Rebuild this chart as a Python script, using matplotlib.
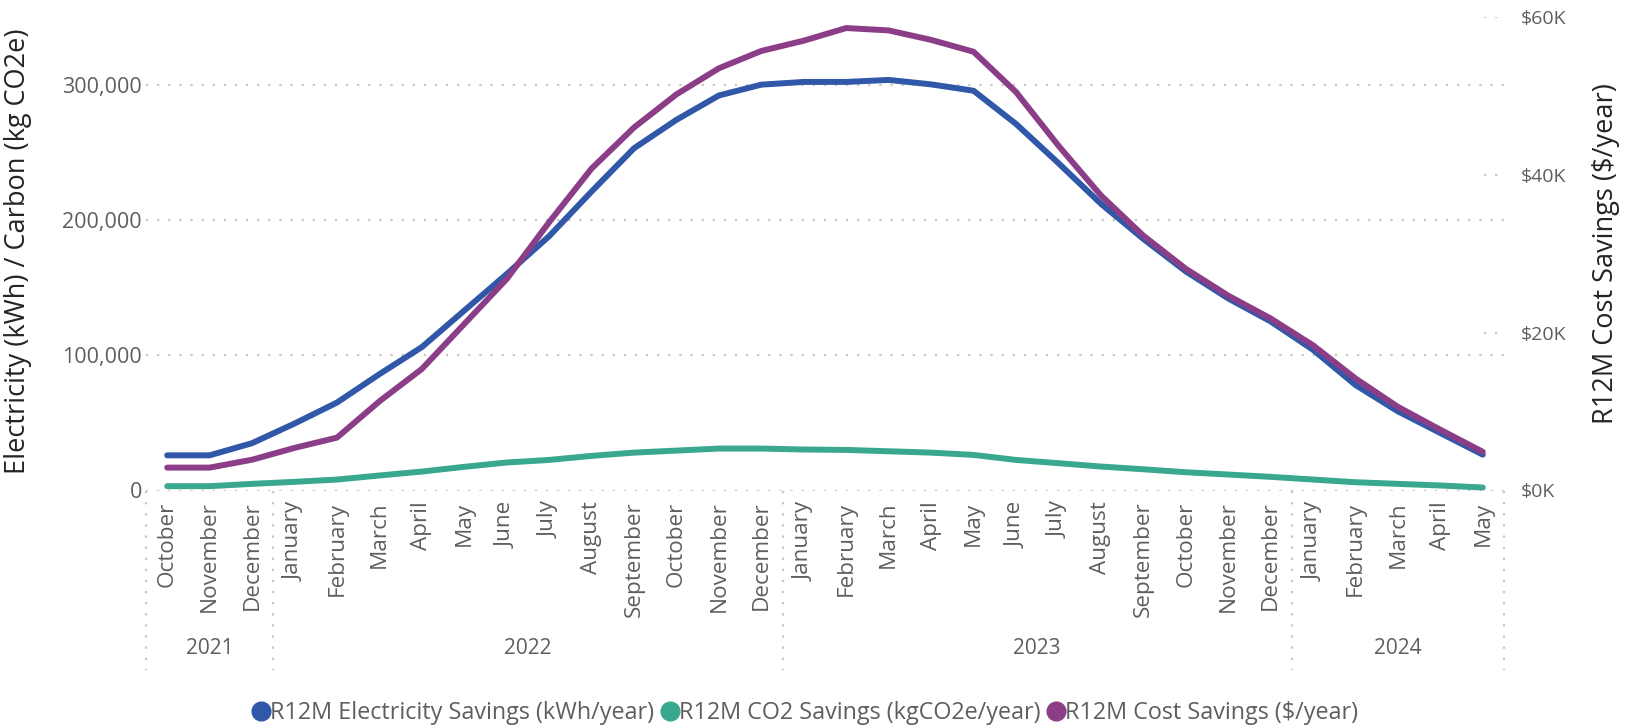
import matplotlib
matplotlib.use("Agg")
import matplotlib.pyplot as plt
from matplotlib.ticker import FuncFormatter, FixedLocator
from matplotlib.lines import Line2D
import matplotlib.transforms as mtransforms

plt.rcParams['font.family'] = ['Open Sans', 'DejaVu Sans']

# ---------------- data ----------------
month_labels = ["October", "November", "December",
                "January", "February", "March", "April", "May", "June", "July",
                "August", "September", "October", "November", "December",
                "January", "February", "March", "April", "May", "June", "July",
                "August", "September", "October", "November", "December",
                "January", "February", "March", "April", "May"]
year_labels = ["2021", "2022", "2023", "2024"]
year_counts = [3, 12, 12, 5]

electricity_kwh = [26000, 26000, 35000, 49500, 65000, 86000, 106000, 133000,
                   160000, 188000, 221000, 253000, 274000, 292000, 300000,
                   302000, 302000, 303500, 300200, 295500, 271000, 242000,
                   212000, 186000, 162000, 142000, 125000, 104000, 78000,
                   58500, 42500, 26500]
co2_kg = [3200, 3200, 4900, 6400, 8100, 11100, 14000, 17500, 20700, 22600,
          25600, 28000, 29500, 31000, 31000, 30300, 30000, 29000, 28000,
          26300, 22600, 20200, 17700, 15700, 13500, 11800, 10100, 8100, 6100,
          4900, 3700, 2200]
cost_usd = [2900, 2900, 3900, 5400, 6700, 11300, 15400, 21100, 26800, 34000,
            40800, 46000, 50200, 53500, 55700, 57000, 58600, 58300, 57100,
            55600, 50500, 43700, 37400, 32300, 28100, 24700, 21800, 18400,
            14200, 10600, 7700, 4900]

left_ticks = [0, 100000, 200000, 300000]
right_ticks = [0, 20000, 40000, 60000]

series_names = ["R12M Electricity Savings (kWh/year)",
                "R12M CO2 Savings (kgCO2e/year)",
                "R12M Cost Savings ($/year)"]

# ---------------- style ----------------
C_BLUE = "#3158A8"
C_TEAL = "#3AA88F"
C_PURPLE = "#8B3D88"
C_TICK = "#605E5C"
C_TITLE = "#252423"
C_GRID = "#C8C6C4"

W, H = 1635, 728
fig = plt.figure(figsize=(W / 100, H / 100), dpi=100)
ax_left, ax_right_px = 146, 1504
ax_top, ax_bot = 17, 490.5
ax = fig.add_axes([ax_left / W, 1 - ax_bot / H, (ax_right_px - ax_left) / W,
                   (ax_bot - ax_top) / H])
ax2 = ax.twinx()

x = list(range(len(month_labels)))
lw = 4.3
ax.plot(x, co2_kg, color=C_TEAL, lw=lw, solid_capstyle='round',
        solid_joinstyle='round', zorder=3)
ax.plot(x, electricity_kwh, color=C_BLUE, lw=lw, solid_capstyle='round',
        solid_joinstyle='round', zorder=4)
ax2.plot(x, cost_usd, color=C_PURPLE, lw=lw, solid_capstyle='round',
         solid_joinstyle='round', zorder=5)

ax.set_xlim(-0.5, len(x) - 0.5)
ax.set_ylim(0, 350000)
ax2.set_ylim(0, 60000)

for a in (ax, ax2):
    for s in a.spines.values():
        s.set_visible(False)
    a.patch.set_visible(False)

dot = (0, (1, 4))
ax.yaxis.set_major_locator(FixedLocator(left_ticks))
ax.yaxis.set_major_formatter(FuncFormatter(lambda v, p: f"{int(v):,}"))
ax.tick_params(axis='y', length=0, pad=3, labelsize=15.5, labelcolor=C_TICK)
for t in left_ticks:
    ax.axhline(t, color=C_GRID, lw=1.6, ls=dot, zorder=1)

ax2.yaxis.set_major_locator(FixedLocator(right_ticks))
ax2.yaxis.set_major_formatter(FuncFormatter(lambda v, p: f"${int(v/1000)}K"))
ax2.tick_params(axis='y', length=0, pad=12, labelsize=14, labelcolor=C_TICK)
for t in right_ticks[1:]:
    ax2.axhline(t, xmin=0.985, xmax=1.0, color=C_GRID, lw=1.6, ls=dot, zorder=1)

ax.set_xticks(x)
ax.set_xticklabels(month_labels, rotation=90, fontsize=16.2, color=C_TICK)
ax.tick_params(axis='x', length=0, pad=8)

ax.set_ylabel("Electricity (kWh) / Carbon (kg CO2e)", fontsize=19.5,
              color=C_TITLE)
ax2.set_ylabel("R12M Cost Savings ($/year)", fontsize=19.5, color=C_TITLE)
ax.yaxis.set_label_coords((32 - ax_left) / (ax_right_px - ax_left), 0.506)
ax2.yaxis.set_label_coords((1592 - ax_left) / (ax_right_px - ax_left), 0.50)

# year groups
trans = mtransforms.blended_transform_factory(ax.transData, ax.transAxes)
sep_bottom = (ax_bot - 670) / (ax_bot - ax_top)
year_y = (ax_bot - 648) / (ax_bot - ax_top)
start = 0
bounds = [-0.5]
for lab, n in zip(year_labels, year_counts):
    center = start + (n - 1) / 2
    ax.text(center, year_y, lab, transform=trans, ha='center', va='center',
            fontsize=15, color=C_TICK, clip_on=False)
    start += n
    bounds.append(start - 0.5)
for b in bounds:
    ax.plot([b, b], [0, sep_bottom], transform=trans, color=C_GRID, lw=1.6,
            ls=dot, clip_on=False, zorder=1)

# legend
handles = [Line2D([], [], ls='none', marker='o', markersize=13.5,
                  markerfacecolor=c, markeredgecolor=c)
           for c in (C_BLUE, C_TEAL, C_PURPLE)]
leg = fig.legend(handles, series_names, loc='center',
                 bbox_to_anchor=(806 / W, 1 - 713 / H), ncol=3, frameon=False,
                 fontsize=16.8, handlelength=0.6, handletextpad=0.1,
                 columnspacing=0.35, labelcolor=C_TICK)

fig.savefig("out.png", dpi=100, facecolor="white")
